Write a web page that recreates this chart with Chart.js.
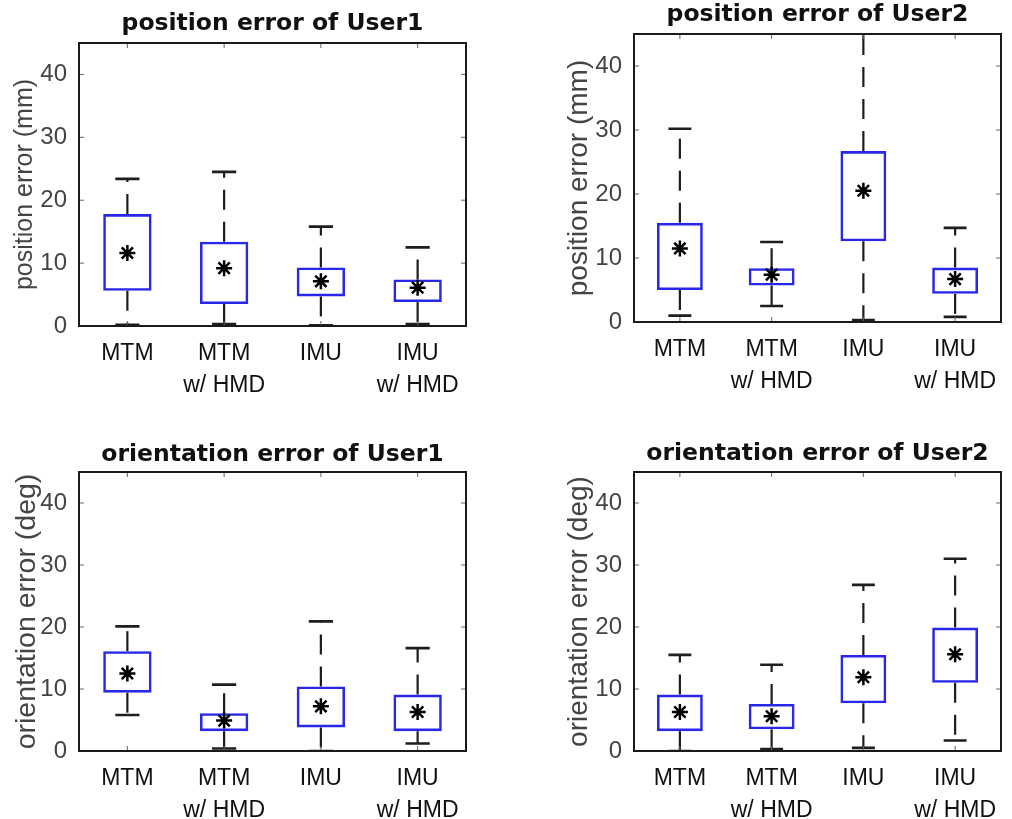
<!DOCTYPE html>
<html>
<head>
<meta charset="utf-8">
<script src="https://cdn.jsdelivr.net/npm/chart.js@4"></script>
<style>
  body { margin: 0; background: #fff; }
  #wrap { position: relative; width: 1012px; height: 819px; overflow: hidden; }
  canvas { position: absolute; }
</style>
</head>
<body>
<div id="wrap">
  <canvas id="posU1" width="506" height="410" style="left:0;top:0"></canvas>
  <canvas id="posU2" width="506" height="410" style="left:506px;top:0"></canvas>
  <canvas id="oriU1" width="506" height="409" style="left:0;top:410px"></canvas>
  <canvas id="oriU2" width="506" height="409" style="left:506px;top:410px"></canvas>
</div>
<script>
// categories and y tick values shared by all four panels
const categories = [['MTM'], ['MTM', 'w/ HMD'], ['IMU'], ['IMU', 'w/ HMD']];
const yTickValues = [0, 10, 20, 30, 40];

// position error, User1 (mm)
const posU1Low  = [0.2, 0.3, 0.1, 0.3];
const posU1Q1   = [5.6, 3.5, 4.7, 3.8];
const posU1Q3   = [17.8, 13.4, 9.3, 7.4];
const posU1High = [23.4, 24.5, 15.8, 12.5];
const posU1Mean = [11.6, 9.2, 7.1, 6.1];

// position error, User2 (mm)
const posU2Low  = [1.0, 2.5, 0.3, 0.8];
const posU2Q1   = [5.0, 5.7, 12.6, 4.4];
const posU2Q3   = [15.5, 8.4, 26.7, 8.5];
const posU2High = [30.2, 12.5, 50, 14.7];
const posU2Mean = [11.5, 7.4, 20.5, 6.7];

// orientation error, User1 (deg)
const oriU1Low  = [5.8, 0.4, 0.0, 1.2];
const oriU1Q1   = [9.4, 3.2, 3.8, 3.2];
const oriU1Q3   = [16.1, 6.1, 10.4, 9.1];
const oriU1High = [20.1, 10.7, 20.9, 16.6];
const oriU1Mean = [12.5, 4.9, 7.2, 6.3];

// orientation error, User2 (deg)
const oriU2Low  = [0.0, 0.3, 0.5, 1.7];
const oriU2Q1   = [3.2, 3.5, 7.7, 11.0];
const oriU2Q3   = [9.1, 7.6, 15.5, 19.9];
const oriU2High = [15.5, 13.9, 26.8, 31.0];
const oriU2Mean = [6.3, 5.6, 11.9, 15.6];

Chart.defaults.font.family = "'Liberation Sans', Arial, sans-serif";

// dashed whiskers + caps, drawn under the boxes
const whiskerPlugin = {
  id: 'whiskers',
  beforeDatasetsDraw(chart, args, opts) {
    const { ctx, chartArea: a, scales: { x, y } } = chart;
    const cap = x.width / categories.length * 0.125;
    ctx.save();
    ctx.beginPath();
    ctx.rect(a.left, a.top, a.right - a.left, a.bottom - a.top);
    ctx.clip();
    ctx.strokeStyle = '#1e1e1e';
    opts.low.forEach((lo, i) => {
      const px = x.getPixelForValue(i);
      ctx.lineWidth = 2.2;
      ctx.setLineDash([20, 12]);
      ctx.beginPath();
      ctx.moveTo(px, y.getPixelForValue(opts.q3[i]));
      ctx.lineTo(px, y.getPixelForValue(opts.high[i]));
      ctx.stroke();
      ctx.beginPath();
      ctx.moveTo(px, y.getPixelForValue(opts.q1[i]));
      ctx.lineTo(px, y.getPixelForValue(lo));
      ctx.stroke();
      ctx.setLineDash([]);
      ctx.lineWidth = 2.6;
      ctx.beginPath();
      [lo, opts.high[i]].forEach(v => {
        const py = y.getPixelForValue(v);
        ctx.moveTo(px - cap, py);
        ctx.lineTo(px + cap, py);
      });
      ctx.stroke();
    });
    ctx.restore();
  }
};

// matlab style box around the axes with inward ticks
const framePlugin = {
  id: 'frame',
  afterDraw(chart) {
    const { ctx, chartArea: a, scales: { x, y } } = chart;
    ctx.save();
    ctx.strokeStyle = '#666';
    ctx.lineWidth = 1;
    ctx.beginPath();
    y.ticks.forEach(t => {
      const py = y.getPixelForValue(t.value);
      ctx.moveTo(a.left, py); ctx.lineTo(a.left + 5, py);
      ctx.moveTo(a.right, py); ctx.lineTo(a.right - 5, py);
    });
    categories.forEach((c, i) => {
      const px = x.getPixelForValue(i);
      ctx.moveTo(px, a.top); ctx.lineTo(px, a.top + 5);
      ctx.moveTo(px, a.bottom); ctx.lineTo(px, a.bottom - 5);
    });
    ctx.stroke();
    ctx.strokeStyle = '#1a1a1a';
    ctx.lineWidth = 2;
    ctx.strokeRect(a.left, a.top, a.right - a.left, a.bottom - a.top);
    ctx.restore();
  }
};

function makePanel(id, title, yLabel, low, q1, q3, high, mean, lay) {
  new Chart(document.getElementById(id), {
    type: 'bar',
    data: {
      labels: categories,
      datasets: [
        {
          type: 'line',
          data: mean,
          showLine: false,
          pointStyle: 'star',
          pointRadius: 8,
          borderColor: '#000',
          borderWidth: 2.5,
          order: 0
        },
        {
          data: q1.map((v, i) => [v, q3[i]]),
          backgroundColor: 'rgba(0,0,0,0)',
          borderColor: 'rgb(40,40,235)',
          borderWidth: 2.6,
          borderSkipped: false,
          barPercentage: 0.5,
          categoryPercentage: 1.0,
          order: 1
        }
      ]
    },
    options: {
      responsive: false,
      animation: false,
      layout: { padding: { left: 0, top: 0, right: lay.padRight, bottom: 0 } },
      plugins: {
        legend: { display: false },
        tooltip: { enabled: false },
        title: {
          display: true,
          text: title,
          fullSize: false,
          color: '#111',
          font: { family: "'DejaVu Sans', sans-serif", weight: 'bold', size: 23.5, lineHeight: 1 },
          padding: { top: lay.titleTop, bottom: lay.titleBottom }
        },
        whiskers: { low, q1, q3, high }
      },
      scales: {
        x: {
          type: 'category',
          offset: true,
          grid: { display: false, drawTicks: false },
          border: { display: false },
          ticks: {
            color: '#111',
            font: { size: 23, lineHeight: 1.375 },
            padding: 12,
            maxRotation: 0,
            autoSkip: false
          },
          afterFit: s => { s.height = lay.xHeight; }
        },
        y: {
          min: 0,
          max: 45,
          grid: { display: false, drawTicks: false },
          border: { display: false },
          ticks: { color: '#444', font: { size: 24 }, padding: 12, includeBounds: false },
          afterBuildTicks: s => { s.ticks = yTickValues.map(v => ({ value: v })); },
          title: {
            display: true,
            text: yLabel,
            color: '#444',
            font: { size: lay.yTitleSize, lineHeight: 1 },
            padding: { top: lay.yTitleTop, bottom: 0 }
          },
          afterFit: s => { s.width = lay.yWidth; }
        }
      }
    },
    plugins: [whiskerPlugin, framePlugin]
  });
}

makePanel('posU1', 'position error of User1', 'position error (mm)',
  posU1Low, posU1Q1, posU1Q3, posU1High, posU1Mean,
  { padRight: 40, yWidth: 79, xHeight: 84, titleTop: 12.25, titleBottom: 7.25, yTitleSize: 25, yTitleTop: 12.5 });

makePanel('posU2', 'position error of User2', 'position error (mm)',
  posU2Low, posU2Q1, posU2Q3, posU2High, posU2Mean,
  { padRight: 11, yWidth: 128, xHeight: 88, titleTop: 3.25, titleBottom: 7.25, yTitleSize: 28, yTitleTop: 59 });

makePanel('oriU1', 'orientation error of User1', 'orientation error (deg)',
  oriU1Low, oriU1Q1, oriU1Q3, oriU1High, oriU1Mean,
  { padRight: 40, yWidth: 79, xHeight: 68, titleTop: 33.25, titleBottom: 5.25, yTitleSize: 28.5, yTitleTop: 13 });

makePanel('oriU2', 'orientation error of User2', 'orientation error (deg)',
  oriU2Low, oriU2Q1, oriU2Q3, oriU2High, oriU2Mean,
  { padRight: 11, yWidth: 128, xHeight: 68, titleTop: 31.75, titleBottom: 6.75, yTitleSize: 28, yTitleTop: 59 });
</script>
</body>
</html>
